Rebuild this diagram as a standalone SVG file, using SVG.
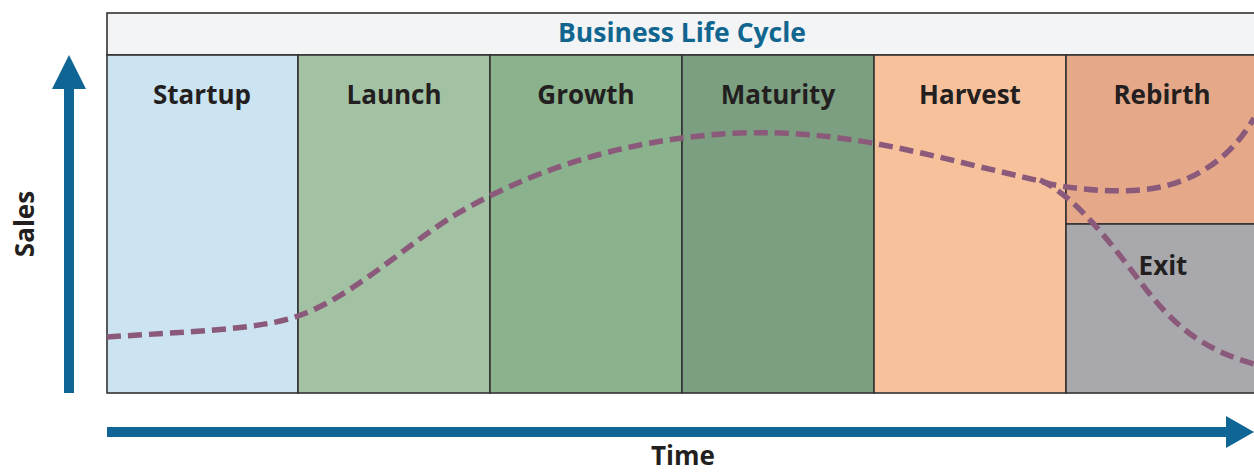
<svg xmlns="http://www.w3.org/2000/svg" width="1254" height="472" viewBox="0 0 1254 472">
<defs>
<style>
.box{stroke:#333;stroke-width:1.6}
.lbl{font-family:"Open Sans","Liberation Sans",sans-serif;font-weight:700;font-size:26px;fill:#231f20;text-anchor:middle}
.title{font-family:"Open Sans","Liberation Sans",sans-serif;font-weight:700;font-size:26.5px;fill:#11668f;text-anchor:middle}
.curve{fill:none;stroke:#8b5a7b;stroke-width:5.5;stroke-dasharray:14 7}
.axis{fill:#0f6593}
</style>
</defs>
<rect width="1254" height="472" fill="#ffffff"/>
<g id="title-bar">
<rect class="box" x="107" y="13" width="1160" height="42" fill="#f3f4f6"/>
<text class="title" x="682" y="42">Business Life Cycle</text>
</g>
<g id="startup">
<rect class="box" x="107" y="55" width="191" height="338" fill="#cce3f2"/>
<text class="lbl" x="202" y="104">Startup</text>
</g>
<g id="launch">
<rect class="box" x="298" y="55" width="192" height="338" fill="#a3c2a3"/>
<text class="lbl" x="394" y="104">Launch</text>
</g>
<g id="growth">
<rect class="box" x="490" y="55" width="192" height="338" fill="#8ab28c"/>
<text class="lbl" x="586" y="104">Growth</text>
</g>
<g id="maturity">
<rect class="box" x="682" y="55" width="192" height="338" fill="#7b9f80"/>
<text class="lbl" x="778" y="104">Maturity</text>
</g>
<g id="harvest">
<rect class="box" x="874" y="55" width="192" height="338" fill="#f7c19c"/>
<text class="lbl" x="970" y="104">Harvest</text>
</g>
<g id="rebirth">
<rect class="box" x="1066" y="55" width="200" height="169" fill="#e5a98a"/>
<text class="lbl" x="1162" y="104">Rebirth</text>
</g>
<g id="exit">
<rect class="box" x="1066" y="224" width="200" height="169" fill="#a9a9ad"/>
<text class="lbl" x="1163" y="275">Exit</text>
</g>
<g id="connectors">
<path class="curve" d="M107,337 C180,332 260,330 298,316 C350,298 400,250 450,218 C520,175 620,138 740,133 C830,130 900,148 960,162 C1000,172 1030,178 1050,184 C1080,190 1110,192 1140,190 C1190,186 1230,160 1254,118"/>
<path class="curve" d="M1040,180 C1075,196 1110,242 1142,284 C1175,328 1205,350 1254,364"/>
</g>
<g id="y-axis">
<rect class="axis" x="64" y="86" width="10" height="307"/>
<polygon class="axis" points="52,89 69,55 86,89"/>
<text class="lbl" transform="translate(34,224) rotate(-90)">Sales</text>
</g>
<g id="x-axis">
<rect class="axis" x="107" y="427" width="1122" height="10"/>
<polygon class="axis" points="1226,416 1254,432 1226,448"/>
<text class="lbl" x="683" y="465">Time</text>
</g>
</svg>
